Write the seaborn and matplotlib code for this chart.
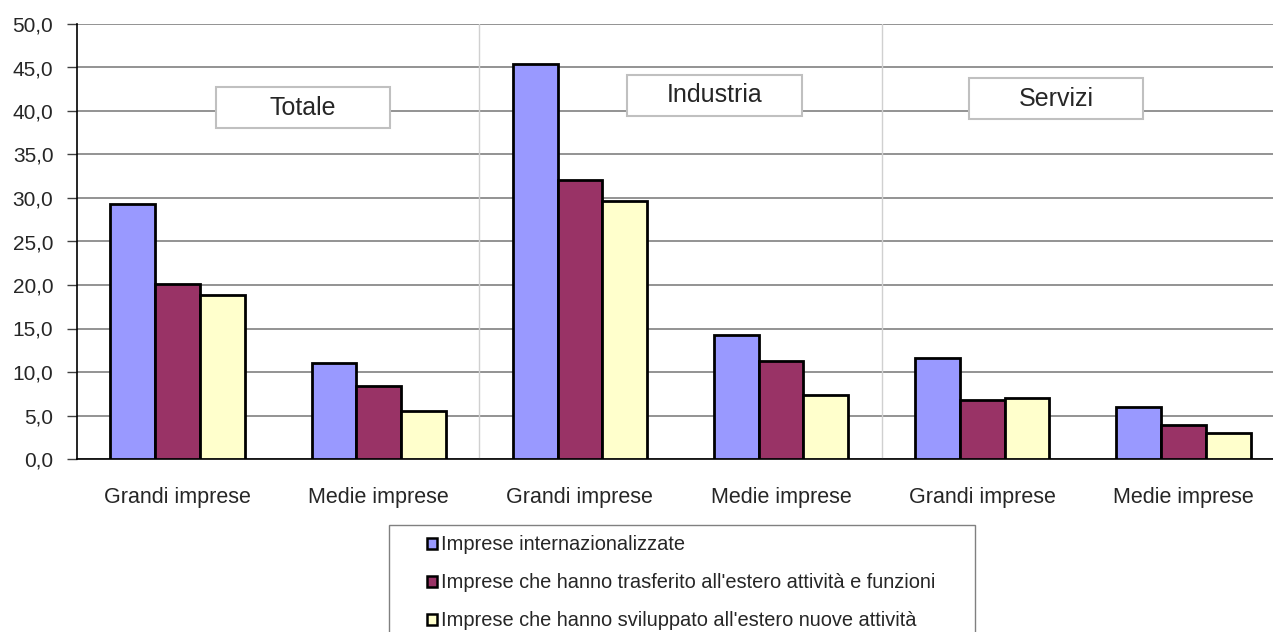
import numpy as np
import matplotlib.pyplot as plt
import pandas as pd
import seaborn as sns
from matplotlib.patches import Rectangle
from matplotlib.ticker import FuncFormatter

sns.set_style('white')
plt.rcParams['font.family'] = ['Liberation Sans', 'DejaVu Sans']

# data
sectors = ['Totale', 'Industria', 'Servizi']
sizes = ['Grandi imprese', 'Medie imprese']
series = ['Imprese internazionalizzate',
          "Imprese che hanno trasferito all'estero attività e funzioni",
          "Imprese che hanno sviluppato all'estero nuove attività"]
internazionalizzate = [29.3, 11.0, 45.4, 14.3, 11.6, 6.0]
trasferito = [20.1, 8.4, 32.1, 11.3, 6.8, 3.9]
sviluppato = [18.8, 5.5, 29.7, 7.3, 7.0, 3.0]
colors = ['#9999FF', '#993366', '#FFFFCC']

keys = [s + ' ' + d for s in sectors for d in sizes]
tick_labels = [d for s in sectors for d in sizes]
df = pd.DataFrame({
    'cat': keys * 3,
    'serie': np.repeat(series, len(keys)),
    'val': internazionalizzate + trasferito + sviluppato,
})

fig = plt.figure(figsize=(12.73, 6.32), dpi=100)
ax = fig.add_axes([77 / 1273, 173 / 632, 1207 / 1273, 435 / 632])

sns.barplot(data=df, x='cat', y='val', hue='serie', order=keys, hue_order=series,
            palette=colors, width=0.667, gap=0, edgecolor='black', linewidth=2,
            saturation=1, ax=ax, legend=True, zorder=3)

ax.set_xlim(-0.5, 5.5)
ax.set_ylim(0, 50)
ax.set_yticks(np.arange(0, 51, 5))
ax.yaxis.set_major_formatter(FuncFormatter(lambda v, p: f'{v:.1f}'.replace('.', ',')))
ax.yaxis.grid(True, color='#808080', linewidth=1.2, zorder=0)
ax.set_axisbelow(True)
ax.set_xticks(range(len(keys)))
ax.set_xticklabels(tick_labels)
ax.set_xticks(np.arange(-0.5, 6, 1), minor=True)
ax.tick_params(axis='x', which='major', length=0, pad=20, labelsize=15.5)
ax.tick_params(axis='x', which='minor', length=7, width=1, color='#404040', direction='out')
ax.tick_params(axis='y', length=7, width=1, color='#404040', direction='out',
               left=True, labelsize=15, pad=10)
ax.set_xlabel('')
ax.set_ylabel('')
for s in ['top', 'right']:
    ax.spines[s].set_visible(False)
for s in ['left', 'bottom']:
    ax.spines[s].set_color('black')
    ax.spines[s].set_linewidth(1.2)

# separators between sectors
for xv in [1.5, 3.5]:
    ax.axvline(xv, color='#d0d0d0', linewidth=1, zorder=1)

# sector label boxes
for name, cx, cy in [('Totale', 0.624, 40.4), ('Industria', 2.669, 41.8), ('Servizi', 4.366, 41.4)]:
    ax.add_patch(Rectangle((cx - 0.433, cy - 2.35), 0.866, 4.7, facecolor='white',
                           edgecolor='#c0c0c0', linewidth=1.5, zorder=4))
    ax.text(cx, cy, name, ha='center', va='center', fontsize=18, zorder=5)

# legend: frame drawn separately, entries placed inside
handles, labels = ax.get_legend_handles_labels()
ax.get_legend().remove()
fig.patches.append(Rectangle((389 / 1273, -0.05), 586 / 1273, 0.05 + 1 - 525 / 632,
                             transform=fig.transFigure, facecolor='white',
                             edgecolor='#808080', linewidth=1))
leg = fig.legend(handles, labels, loc='upper left', bbox_to_anchor=(427 / 1273, 1 - 535.5 / 632),
                 frameon=False, fontsize=14.4, borderpad=0, borderaxespad=0,
                 labelspacing=0.95, handlelength=0.5, handleheight=0.5, handletextpad=0.2)
for h in leg.legend_handles:
    h.set_linewidth(1.8)

fig.savefig('out.png', dpi=100)
